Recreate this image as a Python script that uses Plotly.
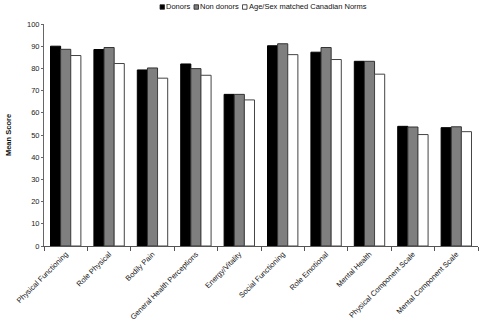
import plotly.graph_objects as go

categories = [
    "Physical Functioning", "Role Physical", "Bodily Pain",
    "General Health Perceptions", "Energy/Vitality", "Social Functioning",
    "Role Emotional", "Mental Health", "Physical Component Scale",
    "Mental Component Scale",
]
donors = [90.0, 88.5, 79.3, 82.0, 68.3, 90.2, 87.3, 83.2, 53.9, 53.3]
non_donors = [88.6, 89.4, 80.2, 79.9, 68.3, 91.1, 89.4, 83.2, 53.6, 53.7]
norms = [85.8, 82.2, 75.6, 76.9, 65.8, 86.2, 84.0, 77.4, 50.2, 51.5]

series_names = ["Donors", "Non donors", "Age/Sex matched Canadian Norms"]
fills = ["#000000", "#7f7f7f", "#ffffff"]
edges = ["#000000", "#333333", "#444444"]

font_family = "Liberation Sans, Arial, sans-serif"

W, H = 480, 324
L, R, T, B = 44, 2, 24, 78
plot_w, plot_h = W - L - R, H - T - B


def px_x(x):
    return (x - L) / plot_w


def px_y(y):
    return (H - B - y) / plot_h


fig = go.Figure()
for name, vals, fc, ec in zip(series_names, [donors, non_donors, norms], fills, edges):
    fig.add_trace(go.Bar(name=name, x=categories, y=vals,
                         marker=dict(color=fc, line=dict(color=ec, width=1))))

# compact legend row: small square keys followed by labels
key_left = [160, 194, 242.5]
key_size = 4.5
leg_y = 7
for name, fc, ec, x0 in zip(series_names, fills, edges, key_left):
    fig.add_shape(type="rect", xref="paper", yref="paper",
                  x0=px_x(x0), x1=px_x(x0 + key_size),
                  y0=px_y(leg_y + key_size / 2), y1=px_y(leg_y - key_size / 2),
                  fillcolor=fc, line=dict(color="#222222", width=0.8))
    fig.add_annotation(text=name, xref="paper", yref="paper",
                       x=px_x(x0 + key_size + 1.5), y=px_y(leg_y),
                       xanchor="left", yanchor="middle", showarrow=False,
                       borderpad=0, borderwidth=0,
                       font=dict(size=7.5, color="#111111"))

fig.update_layout(
    width=W, height=H,
    margin=dict(l=L, r=R, t=T, b=B, autoexpand=False),
    paper_bgcolor="white", plot_bgcolor="white",
    barmode="group", bargap=0.3, bargroupgap=0,
    font=dict(family=font_family, size=7.5, color="#111111"),
    showlegend=False,
    xaxis=dict(
        showline=True, linecolor="#555555", linewidth=1, automargin=False,
        ticks="outside", ticklen=4, tickcolor="#555555", tickson="boundaries",
        tickangle=-45, showgrid=False, tickfont=dict(size=7.5),
    ),
    yaxis=dict(
        range=[0, 100], dtick=10, showline=True, linecolor="#666666", linewidth=1,
        automargin=False,
        ticks="outside", ticklen=2, tickcolor="#666666", showgrid=False, zeroline=False,
        tickfont=dict(size=7.5, color="#222222"),
        title=dict(text="<b>Mean Score</b>", font=dict(size=7.5), standoff=14),
    ),
)

fig.write_html("out.html")
